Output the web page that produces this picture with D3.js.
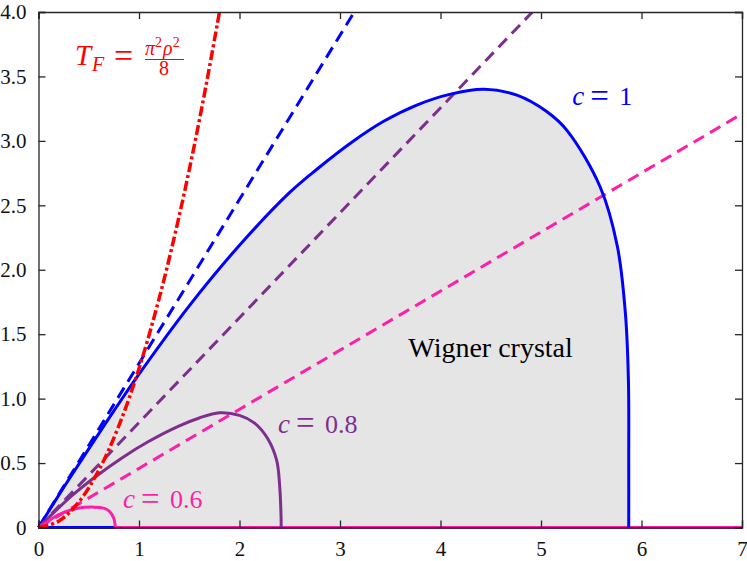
<!DOCTYPE html>
<html><head><meta charset="utf-8">
<script src="https://cdn.jsdelivr.net/npm/d3@7"></script>
<style>
html,body{margin:0;padding:0;background:#fff;}
</style></head>
<body><svg id="chart" width="747" height="561"></svg>
<script>
// ---- data ----
const xTicks = [0,1,2,3,4,5,6,7];
const yTicks = [0,0.5,1,1.5,2,2.5,3,3.5,4];

// Fermi temperature T_F = pi^2 rho^2 / 8 (tabulated values)
const tfRho = [0,0.2,0.4,0.6,0.8,1.0,1.2,1.4,1.6,1.8,1.85];
const tfT   = [0,0.049,0.197,0.444,0.790,1.234,1.776,2.418,3.158,3.997,4.222];

// c = 1 boundary
const c1Rho = [0,0.25,0.5,0.75,1.0,1.5,2.0,2.5,2.77,3.1,3.43,3.77,4.1,4.43,4.76,5.06,5.26,5.59,5.76,5.84,5.87,5.873,5.873];
const c1T   = [0,0.31,0.61,0.905,1.19,1.72,2.19,2.60,2.78,2.98,3.15,3.28,3.363,3.40,3.355,3.226,3.08,2.64,2.18,1.66,1.14,0.5,0];

// c = 0.8 boundary
const c08Rho = [0,0.33,0.56,0.83,1.09,1.39,1.6,1.8,2.0,2.15,2.28,2.37,2.40,2.413,2.415];
const c08T   = [0,0.245,0.39,0.54,0.665,0.785,0.85,0.89,0.87,0.81,0.69,0.52,0.32,0.1,0];

// c = 0.6 boundary
const c06Rho = [0,0.1,0.19,0.39,0.55,0.65,0.71,0.75,0.762,0.765];
const c06T   = [0,0.05,0.097,0.149,0.158,0.15,0.122,0.07,0.02,0];

// boundaries along T = 0
const base1Rho = [0,7],      base1T = [0,0];
const base08Rho = [2.415,7], base08T = [0,0];
const base06Rho = [0.765,7], base06T = [0,0];

// asymptotic straight lines (dashed)
const dashC1Rho = [0,3.2],  dashC1T = [0,4.074];
const dashC08Rho = [0,5.0], dashC08T = [0,4.07];
const dashC06Rho = [0,7.0], dashC06T = [0,3.21];

// label positions (data coords)
const labelVals = ["1","0.8","0.6"];
const labelRho  = [5.311,2.384,0.841];
const labelT    = [3.278,0.735,0.151];

// ---- layout ----
const FONT = "'Liberation Serif','Times New Roman',serif";
const svg = d3.select("#chart");
const L = 38.5, R = 742, T = 12, B = 527.5;
const x = d3.scaleLinear().domain([0,7]).range([L,R]);
const y = d3.scaleLinear().domain([0,4]).range([B,T]);

const BLUE="#0000ff", PURPLE="#7e2f8e", PINK="#ff1ea8", RED="#ff0000";
const labelColors = [BLUE,PURPLE,PINK];

svg.append("defs").append("clipPath").attr("id","clip")
  .append("rect").attr("x",L-2).attr("y",T).attr("width",R-L+2).attr("height",B-T+2);

const zip = (a,b)=>a.map((v,i)=>[v,b[i]]);
const lineGen = d3.line().x(d=>x(d[0])).y(d=>y(d[1]));
const smooth = d3.line().x(d=>x(d[0])).y(d=>y(d[1])).curve(d3.curveCatmullRom.alpha(0.5));

const g = svg.append("g").attr("clip-path","url(#clip)");

// shaded Wigner crystal region
g.append("path").datum(zip(c1Rho,c1T))
  .attr("d", d=>smooth(d)+"Z").attr("fill","#e5e5e5").attr("stroke","none");

// dashed asymptotes
[[dashC1Rho,dashC1T,BLUE],[dashC08Rho,dashC08T,PURPLE],[dashC06Rho,dashC06T,PINK]].forEach(([a,b,c])=>{
  g.append("path").datum(zip(a,b)).attr("d",lineGen)
   .attr("fill","none").attr("stroke",c).attr("stroke-width",3)
   .attr("stroke-dasharray","12,7");
});

// boundaries along T = 0
[[base1Rho,base1T,BLUE],[base08Rho,base08T,PURPLE],[base06Rho,base06T,PINK]].forEach(([a,b,c])=>{
  g.append("path").datum(zip(a,b)).attr("d",lineGen)
   .attr("fill","none").attr("stroke",c).attr("stroke-width",3);
});

// solid boundaries
[[c1Rho,c1T,BLUE],[c08Rho,c08T,PURPLE],[c06Rho,c06T,PINK]].forEach(([a,b,c])=>{
  g.append("path").datum(zip(a,b)).attr("d",smooth)
   .attr("fill","none").attr("stroke",c).attr("stroke-width",3).attr("stroke-linejoin","round");
});

// Fermi temperature
g.append("path").datum(zip(tfRho,tfT)).attr("d",smooth)
  .attr("fill","none").attr("stroke",RED).attr("stroke-width",3.5)
  .attr("stroke-dasharray","10,3,3,3");

// ---- axes box ----
const AX="#262626";
const ax = svg.append("g");
const fmt = d=> d===0 ? "0" : d3.format(".1f")(d);
ax.append("g").attr("transform",`translate(0,${B})`)
  .call(d3.axisBottom(x).tickValues(xTicks).tickSize(-7).tickPadding(14).tickFormat(d3.format("d")));
ax.append("g").attr("transform",`translate(0,${T})`)
  .call(d3.axisTop(x).tickValues(xTicks).tickSize(-7).tickFormat(""));
ax.append("g").attr("transform",`translate(${L},0)`)
  .call(d3.axisLeft(y).tickValues(yTicks).tickSize(-7).tickPadding(12).tickFormat(fmt));
ax.append("g").attr("transform",`translate(${R},0)`)
  .call(d3.axisRight(y).tickValues(yTicks).tickSize(-7).tickFormat(""));
ax.selectAll("g").attr("font-family",null).attr("font-size",null);
ax.selectAll(".domain").attr("stroke",AX).attr("stroke-width",1.3);
ax.selectAll(".tick line").attr("stroke",AX).attr("stroke-width",1.3);
ax.selectAll(".tick text").attr("fill","#111")
  .style("font-family",FONT).style("font-size","21px");

// ---- annotations ----
labelVals.forEach((v,i)=>{
  const px = x(labelRho[i]), py = y(labelT[i]);
  const gl = svg.append("g").attr("fill",labelColors[i]).style("font-family",FONT);
  gl.append("text").attr("x",px).attr("y",py).style("font-size","27px").style("font-style","italic").text("c");
  gl.append("text").attr("x",px+18).attr("y",py+1.5).style("font-size","33px").text("=");
  gl.append("text").attr("x",px+47).attr("y",py).style("font-size","26px").text(v);
});

svg.append("text").attr("x",x(3.68)).attr("y",y(1.323))
  .style("font-family",FONT).style("font-size","28px")
  .attr("fill","#000").text("Wigner crystal");

// T_F label
const tf = svg.append("g").attr("fill",RED).style("font-family",FONT);
tf.append("text").attr("x",75).attr("y",65).style("font-size","29px").style("font-style","italic").text("T");
tf.append("text").attr("x",92).attr("y",71).style("font-size","20px").style("font-style","italic").text("F");
tf.append("text").attr("x",114).attr("y",67).style("font-size","34px").text("=");
const num = tf.append("text").attr("x",145).attr("y",55).style("font-size","20px");
num.append("tspan").style("font-style","italic").text("π");
num.append("tspan").style("font-size","14px").attr("dy",-8).text("2");
num.append("tspan").style("font-style","italic").attr("dy",8).attr("dx",1).text("ρ");
num.append("tspan").style("font-size","14px").attr("dy",-8).text("2");
tf.append("line").attr("x1",145).attr("x2",184).attr("y1",59.5).attr("y2",59.5)
  .attr("stroke",RED).attr("stroke-width",1);
tf.append("text").attr("x",164).attr("y",75).style("font-size","20px").attr("text-anchor","middle").text("8");
</script></body></html>
